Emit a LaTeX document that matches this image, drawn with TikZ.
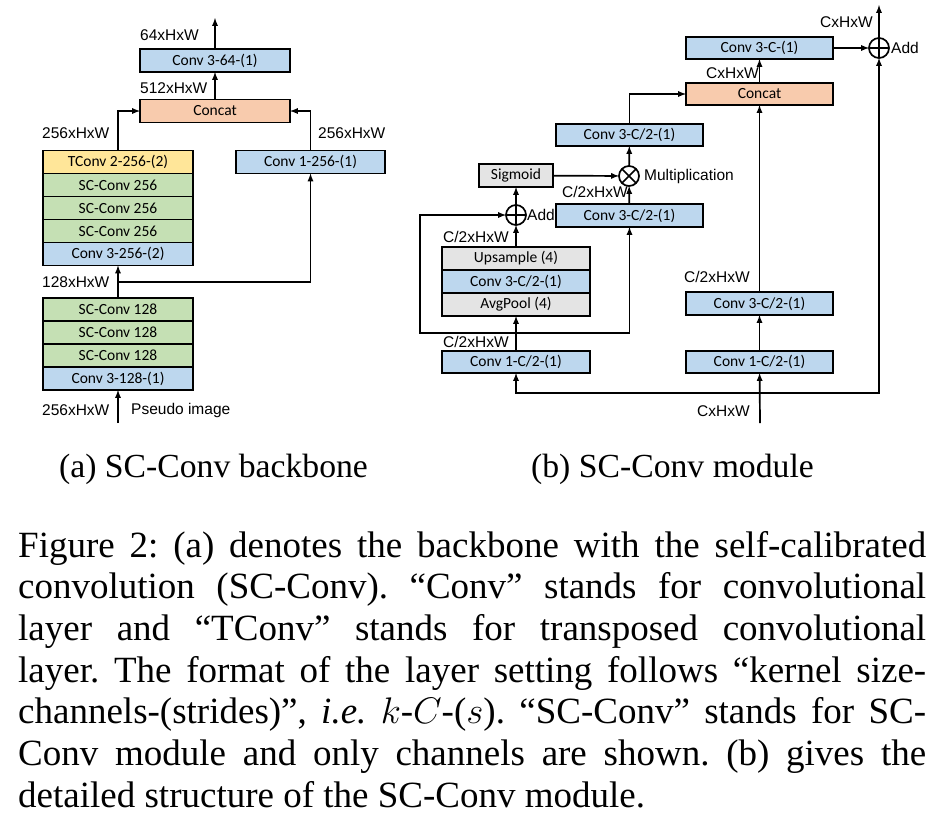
\RequirePackage{fix-cm}
\documentclass[tikz,border=0pt]{standalone}
\usepackage{fontspec}
\setmainfont{Liberation Serif}
\setsansfont{Carlito}
\newfontfamily\arial{Liberation Sans}
\usetikzlibrary{positioning}
\definecolor{blau}{HTML}{BDD7EE}
\definecolor{gruen}{HTML}{C5E0B4}
\definecolor{gelb}{HTML}{FFE699}
\definecolor{lachs}{HTML}{F8CBAD}
\definecolor{grau}{HTML}{E4E4E4}
\frenchspacing
\begin{document}
\begin{tikzpicture}[x=1pt,y=-1pt,
  schicht/.style={draw,line width=1.7pt,minimum width=150pt,minimum height=23pt,
    inner sep=0pt,outer sep=0pt,font=\sffamily\fontsize{15.5}{18}\selectfont},
  dim/.style={anchor=west,inner sep=0pt,font=\arial\fontsize{15.5}{18}\selectfont},
  kreis/.style={circle,draw,line width=1.7pt,minimum size=20pt,inner sep=0pt,outer sep=0pt},
  plus/.style={kreis,path picture={\draw[line width=1.7pt]
    (path picture bounding box.north) -- (path picture bounding box.south)
    (path picture bounding box.west) -- (path picture bounding box.east);}},
  mal/.style={kreis,path picture={\draw[line width=1.7pt]
    (path picture bounding box.north west) -- (path picture bounding box.south east)
    (path picture bounding box.south west) -- (path picture bounding box.north east);}},
  pfeil/.style={line width=1.7pt,-latex}]
  \useasboundingbox (0,0) rectangle (942,823);

  % (a) backbone
  \node[schicht,fill=blau] (c64) at (215,60.5) {Conv 3-64-(1)};
  \node[schicht,fill=lachs] (cat) at (215,111) {Concat};
  \node[schicht,fill=gelb] (tconv) at (118,162) {TConv 2-256-(2)};
  \node[schicht,fill=gruen,below=0pt of tconv] (sc1) {SC-Conv 256};
  \node[schicht,fill=gruen,below=0pt of sc1] (sc2) {SC-Conv 256};
  \node[schicht,fill=gruen,below=0pt of sc2] (sc3) {SC-Conv 256};
  \node[schicht,fill=blau,below=0pt of sc3] (c256) {Conv 3-256-(2)};
  \node[schicht,fill=blau,minimum width=149pt] (c1) at (310.5,162) {Conv 1-256-(1)};
  \node[schicht,fill=gruen] (sd1) at (118,309.5) {SC-Conv 128};
  \node[schicht,fill=gruen,below=0pt of sd1] (sd2) {SC-Conv 128};
  \node[schicht,fill=gruen,below=0pt of sd2] (sd3) {SC-Conv 128};
  \node[schicht,fill=blau,below=0pt of sd3] (c128) {Conv 3-128-(1)};
  \coordinate (aus) at (215,18);
  \coordinate (ein) at (118,423);
  \coordinate (ab) at (118,282);

  \path[pfeil]
    (cat) edge (c64)
    (c64) edge (aus)
    (sd1) edge (c256)
    (ein) edge (c128);
  \draw[pfeil] (tconv.north) |- (cat.west);
  \draw[pfeil] (c1.north) |- (cat.east);
  \draw[pfeil] (ab) -| (c1.south);

  \node[dim] (l64) at (140,35) {64xHxW};
  \node[dim] (l512) at (140,88) {512xHxW};
  \node[dim] (l256a) at (42,133) {256xHxW};
  \node[dim] (l256b) at (318,133) {256xHxW};
  \node[dim] (l128) at (42,282) {128xHxW};
  \node[dim] (l256c) at (42,410) {256xHxW};
  \node[dim] (pseudo) at (131,410) {Pseudo image};

  % (b) module
  \node[schicht,fill=blau,minimum width=147pt,minimum height=22pt] (c3c) at (759.5,48) {Conv 3-C-(1)};
  \node[plus] (add) at (879,48) {};
  \node[schicht,fill=lachs,minimum width=147pt,minimum height=22pt] (cat2) at (759.5,94) {Concat};
  \node[schicht,fill=blau,minimum width=147pt,minimum height=22pt] (u3) at (629.5,135) {Conv 3-C/2-(1)};
  \node[schicht,fill=grau,minimum width=74pt] (sig) at (516,175.5) {Sigmoid};
  \node[mal] (mul) at (629,176) {};
  \node[schicht,fill=blau,minimum width=147pt] (m3) at (629.5,215.5) {Conv 3-C/2-(1)};
  \node[plus] (add2) at (516,215) {};
  \node[schicht,fill=grau,minimum width=148pt] (up) at (516,258.5) {Upsample (4)};
  \node[schicht,fill=blau,minimum width=148pt,below=0pt of up] (k3) {Conv 3-C/2-(1)};
  \node[schicht,fill=grau,minimum width=148pt,below=0pt of k3] (pool) {AvgPool (4)};
  \node[schicht,fill=blau,minimum width=148pt,minimum height=22pt] (k1l) at (516,362) {Conv 1-C/2-(1)};
  \node[schicht,fill=blau,minimum width=147pt] (k3r) at (759.5,303.5) {Conv 3-C/2-(1)};
  \node[schicht,fill=blau,minimum width=147pt,minimum height=22pt] (k1r) at (759.5,362) {Conv 1-C/2-(1)};
  \coordinate (aus2) at (879,5);
  \coordinate (ein2) at (760,423);
  \coordinate (ab2) at (760,393);
  \coordinate (ab3) at (516,333);
  \coordinate (ecke) at (420,333);

  \path[pfeil]
    (c3c) edge (add)
    (add) edge (aus2)
    (cat2) edge (c3c)
    (sig) edge (mul)
    (mul) edge (u3)
    (m3) edge (mul)
    (add2) edge (sig)
    (up) edge (add2)
    (k1l) edge (pool)
    (k1r) edge (k3r)
    (k3r) edge (cat2)
    (ein2) edge (k1r);
  \draw[pfeil] (u3.north) |- (cat2.west);
  \draw[pfeil] (ab3) -- (ecke) |- (add2.west);
  \draw[pfeil] (ab3) -| (m3.south);
  \draw[pfeil] (ab2) -| (k1l.south);
  \draw[pfeil] (ab2) -| (add.south);

  \node[dim] (lc1) at (820,22) {CxHxW};
  \node[dim] (ladd) at (891,48) {Add};
  \node[dim] (lc2) at (706,73) {CxHxW};
  \node[dim] (lmul) at (644,176) {Multiplication};
  \node[dim] (lh1) at (562,192) {C/2xHxW};
  \node[dim] (ladd2) at (527,215) {Add};
  \node[dim] (lh2) at (443,237) {C/2xHxW};
  \node[dim] (lh3) at (443,342) {C/2xHxW};
  \node[dim] (lh4) at (684,277) {C/2xHxW};
  \node[dim] (lc3) at (697,411) {CxHxW};

  % captions
  \node[anchor=base,inner sep=0pt,font=\fontsize{33.7}{40}\selectfont] (capa) at (213.5,477) {(a) SC-Conv backbone};
  \node[anchor=base,inner sep=0pt,font=\fontsize{33.7}{40}\selectfont] (capb) at (672.5,477) {(b) SC-Conv module};
  \node[anchor=north west,inner sep=0pt,text width=908pt,align=justify,
    font=\fontsize{37}{41.67}\selectfont] (text) at (18,531) {\hyphenpenalty=10000\exhyphenpenalty=10000\emergencystretch=3em
    Figure 2: (a) denotes the backbone with the self-calibrated\linebreak
    convolution (SC-Conv). “Conv” stands for convolutional\linebreak
    layer and “TConv” stands for transposed convolutional\linebreak
    layer. The format of the layer setting follows “kernel size-\linebreak
    channels-(strides)”, \textit{i.e.} $k$-$C$-($s$). “SC-Conv” stands for SC-\linebreak
    Conv module and only channels are shown. (b) gives the\linebreak
    detailed structure of the SC-Conv module.};
\end{tikzpicture}
\end{document}
